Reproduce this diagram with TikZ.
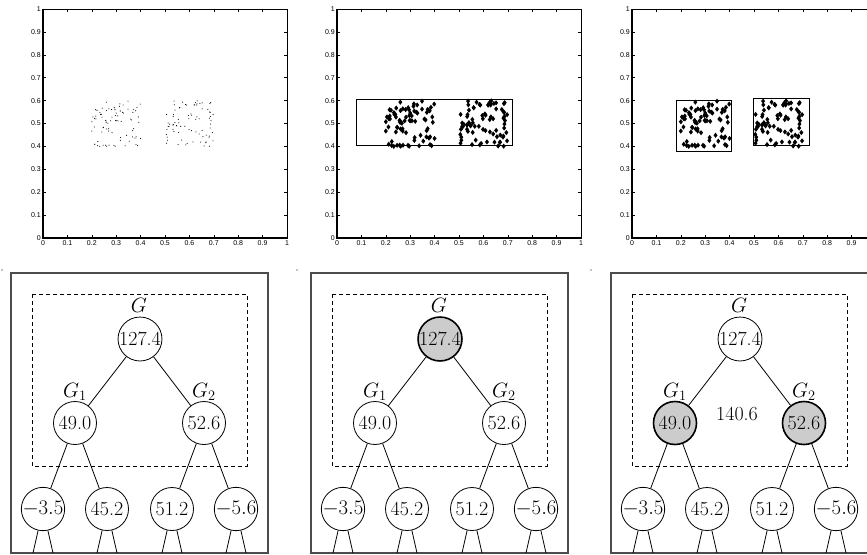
\documentclass[tikz,border=0pt]{standalone}
\usepackage{fontspec}
\newfontfamily\tickfont{Liberation Sans}
\tikzset{
  tnode/.style={circle, draw, line width=0.8pt, minimum size=43pt, inner sep=0pt, fill=white, font=\fontsize{20}{22}\selectfont},
  hnode/.style={tnode, fill=black!20, line width=1.6pt},
  treeline/.style={line width=0.8pt},
  outerbox/.style={draw=black!70, line width=1.1pt},
  dashbox/.style={draw, dash pattern=on 4pt off 3pt, line width=0.8pt},
  glabel/.style={anchor=base, inner sep=0pt, font=\fontsize{20}{22}\selectfont},
  ticklab/.style={inner sep=0pt, font=\tickfont\fontsize{7}{8}\selectfont},
  axisframe/.style={line width=0.6pt},
  axisthick/.style={line width=1.2pt},
  selbox/.style={draw, line width=0.9pt}
}
\newcommand\myticklabel[1]{\ifnum#1=0 0\else\ifnum#1=10 1\else 0.#1\fi\fi}
% #1 name prefix, #2 last x label index
\newcommand\plotframe[2]{%
  \draw[axisframe] (0,0) rectangle (1,1);
  \draw[axisthick] (0,1) -- (0,0) -- (1,0);
  \foreach \t in {1,...,9}{
    \draw[line width=0.5pt] (\t/10,0) -- ++(0,3pt);
    \draw[line width=0.5pt] (\t/10,1) -- ++(0,-3pt);
    \draw[line width=0.5pt] (0,\t/10) -- ++(3pt,0);
    \draw[line width=0.5pt] (1,\t/10) -- ++(-3pt,0);
  }
  \foreach \t in {0,...,10}{
    \node[ticklab, anchor=east] (#1y\t) at ([xshift=-2pt]0,\t/10) {\myticklabel{\t}};
  }
  \foreach \t in {0,...,#2}{
    \node[ticklab, anchor=north] (#1x\t) at ([yshift=-2pt]\t/10,0) {\myticklabel{\t}};
  }
}
\newcommand\scatterdots{%
  \pgfmathsetseed{4242}
  \foreach \i in {1,...,80}{
    \pgfmathsetmacro\ax{0.2+0.2*rnd}\pgfmathsetmacro\ay{0.4+0.2*rnd}
    \fill (\ax,\ay) circle (0.55pt);}
  \foreach \i in {1,...,80}{
    \pgfmathsetmacro\ax{0.5+0.2*rnd}\pgfmathsetmacro\ay{0.4+0.2*rnd}
    \fill (\ax,\ay) circle (0.55pt);}
}
\newcommand\scatterdiam{%
  \pgfmathsetseed{4242}
  \foreach \i in {1,...,80}{
    \pgfmathsetmacro\ax{0.2+0.2*rnd}\pgfmathsetmacro\ay{0.4+0.2*rnd}
    \fill (\ax,\ay) ++(0,2.6pt) -- ++(2pt,-2.6pt) -- ++(-2pt,-2.6pt) -- ++(-2pt,2.6pt) -- cycle;}
  \foreach \i in {1,...,80}{
    \pgfmathsetmacro\ax{0.5+0.2*rnd}\pgfmathsetmacro\ay{0.4+0.2*rnd}
    \fill (\ax,\ay) ++(0,2.6pt) -- ++(2pt,-2.6pt) -- ++(-2pt,-2.6pt) -- ++(-2pt,2.6pt) -- cycle;}
}
\newcommand\treepanel[4]{%
\begin{scope}[xshift=#2]
  \draw[outerbox] (11,273) rectangle (268,553);
  \draw[dashbox] (32,294) rectangle (247,466);
  \node[#3] (#1r) at (140,339) {127.4};
  \node[#4] (#1a) at (75,423) {49.0};
  \node[#4] (#1b) at (204,423) {52.6};
  \node[tnode] (#1l1) at (43,509) {$-3.5$};
  \node[tnode] (#1l2) at (107,509) {45.2};
  \node[tnode] (#1l3) at (172,509) {51.2};
  \node[tnode] (#1l4) at (236,509) {$-5.6$};
  \node[glabel] (#1g) at (139,312) {$G$};
  \node[glabel] (#1g1) at (75,397) {$G_1$};
  \node[glabel] (#1g2) at (204,397) {$G_2$};
  \draw[treeline] (#1r) -- (#1a);
  \draw[treeline] (#1r) -- (#1b);
  \draw[treeline] (#1a) -- (#1l1);
  \draw[treeline] (#1a) -- (#1l2);
  \draw[treeline] (#1b) -- (#1l3);
  \draw[treeline] (#1b) -- (#1l4);
  \foreach \k/\cx in {1/43,2/107,3/172,4/236}{
    \coordinate (#1s\k a) at (\cx-10,553);
    \coordinate (#1s\k b) at (\cx+10,553);
    \draw[treeline] (#1l\k) -- (#1s\k a);
    \draw[treeline] (#1l\k) -- (#1s\k b);
  }
\end{scope}}
\begin{document}
\begin{tikzpicture}[x=1pt,y=-1pt]
\useasboundingbox (0,0) rectangle (867,554);
\clip (0,0) rectangle (867,554);
\fill[white] (0,0) rectangle (867,554);
% top plots
\begin{scope}[shift={(43,238)}, x=244pt, y=229pt]
  \plotframe{pa}{10}
  \scatterdots
\end{scope}
\begin{scope}[shift={(337,238)}, x=244pt, y=229pt]
  \plotframe{pb}{10}
  \scatterdiam
  \draw[selbox] (0.078,0.404) rectangle (0.718,0.606);
\end{scope}
\begin{scope}[shift={(632,238)}, x=244pt, y=229pt]
  \plotframe{pc}{9}
  \scatterdiam
  \draw[selbox] (0.184,0.376) rectangle (0.409,0.600);
  \draw[selbox] (0.498,0.402) rectangle (0.727,0.608);
\end{scope}
% bottom tree panels
\treepanel{ta}{0pt}{tnode}{tnode}
\treepanel{tb}{300pt}{hnode}{tnode}
\treepanel{tc}{600pt}{tnode}{hnode}
\node[font=\fontsize{20}{22}\selectfont, inner sep=0pt] (sum) at (737,414) {140.6};
\fill (2,270) circle (0.6pt);
\fill (297,270) circle (0.6pt);
\fill (591,270) circle (0.6pt);
\end{tikzpicture}
\end{document}
